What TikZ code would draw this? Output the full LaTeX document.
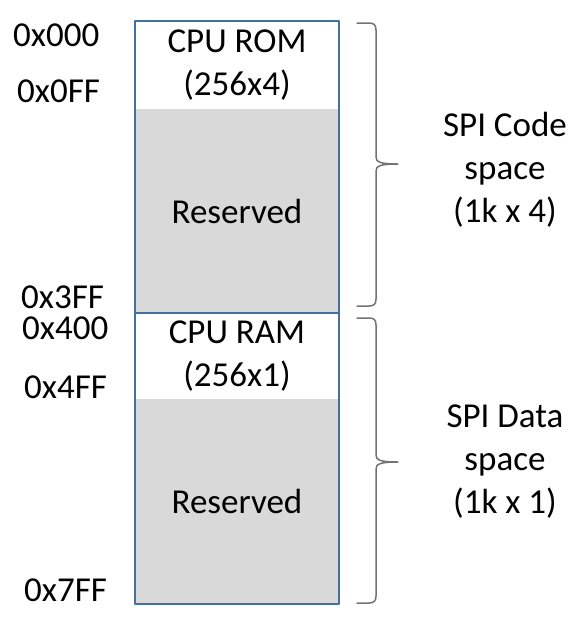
\documentclass[tikz,border=0pt]{standalone}
\usepackage{fontspec}
\setmainfont{Carlito}
\definecolor{boxblue}{HTML}{41719C}
\definecolor{resgray}{HTML}{D9D9D9}
\begin{document}
\begin{tikzpicture}[x=1pt,y=-1pt,line join=round,line cap=round]
	\tikzset{every node/.style={font=\fontsize{35}{43}\selectfont,inner sep=0pt},
		cell/.style={minimum width=204.5pt,anchor=north west,align=center},
		frame/.style={draw=boxblue,line width=2pt},
		addr/.style={anchor=base west,text height=24pt,text depth=0pt},
		bracebar/.style={draw=black!55,line width=1.5pt}}
	\useasboundingbox (0,0) rectangle (580,625);
	\node[cell,minimum height=88pt] (rom) at (134.5,21) {CPU ROM\\(256x4)};
	\node[cell,minimum height=204pt,fill=resgray] (romres) at (134.5,109) {Reserved};
	\node[cell,minimum height=86pt] (ram) at (134.5,313) {CPU RAM\\(256x1)};
	\node[cell,minimum height=205pt,fill=resgray] (ramres) at (134.5,399) {Reserved};
	\draw[frame] (rom.north west) rectangle (romres.south east);
	\draw[frame] (ram.north west) rectangle (ramres.south east);
	\foreach \y/\x/\a in {46/13/0x000,102/17/0x0FF,308/21/0x3FF,339/22/0x400,398/24/0x4FF,601/24/0x7FF}
		\node[addr] at (\x,\y) {\a};
	\foreach \t/\m/\b in {23/164/306,318/462/603}
		\draw[bracebar] (357,\t) -- (369,\t) .. controls (374,\t) and (376,\t+2) .. (376,\t+7)
			-- (376,\m-7) .. controls (376,\m-2) and (380,\m) .. (398,\m)
			.. controls (380,\m) and (376,\m+2) .. (376,\m+7)
			-- (376,\b-7) .. controls (376,\b-2) and (374,\b) .. (369,\b) -- (357,\b);
	\node[align=center] (code) at (505,170) {SPI Code\\space\\(1k x 4)};
	\node[align=center] (data) at (505,462) {SPI Data\\space\\(1k x 1)};
\end{tikzpicture}
\end{document}
